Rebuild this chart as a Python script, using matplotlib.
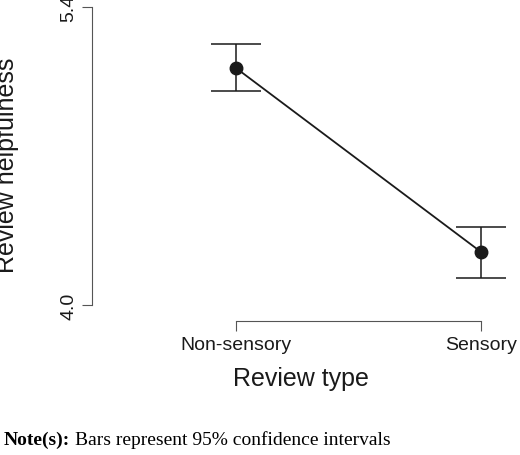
import matplotlib
matplotlib.use("Agg")
import matplotlib.pyplot as plt

plt.rcParams["font.family"] = ["Liberation Sans", "DejaVu Sans"]

# data
categories = ["Non-sensory", "Sensory"]
means = [5.113, 4.249]
ci_low = [5.005, 4.127]
ci_high = [5.226, 4.366]

W, H = 520, 456
fig = plt.figure(figsize=(W / 100, H / 100), dpi=100)
ax = fig.add_axes([92 / W, (H - 322) / H, 418 / W, 314 / H])

x = list(range(len(categories)))
yerr = [[m - lo for m, lo in zip(means, ci_low)],
        [hi - m for m, hi in zip(means, ci_high)]]
ax.errorbar(x, means, yerr=yerr, color="#1a1a1a", lw=1.3, elinewidth=1.1,
            capsize=18, capthick=1.1, marker="o", ms=9)

ax.set_xlim(-0.588, 1.118)
ax.set_ylim(3.925, 5.4)
ax.set_xticks(x, labels=categories)
ax.set_yticks([4.0, 5.4], labels=["4.0", "5.4"])
for s in ["top", "right"]:
    ax.spines[s].set_visible(False)
ax.spines["left"].set_bounds(4.0, 5.4)
ax.spines["bottom"].set_bounds(0, 1)
for s in ["left", "bottom"]:
    ax.spines[s].set_color("#555555")
ax.tick_params(labelsize=14, colors="#555555", labelcolor="#1a1a1a", length=7)
ax.tick_params(axis="y", labelrotation=90)
for lab in ax.get_yticklabels():
    lab.set_va("center")
ax.set_xlabel("Review type", fontsize=18, color="#1a1a1a", labelpad=10)
ax.set_ylabel("Review helpfulness", fontsize=18, color="#1a1a1a", labelpad=30)

note = fig.text(4 / W, 1 - 440 / H, "Note(s):", fontsize=14, fontweight="bold",
                family="Liberation Serif", va="center")
fig.canvas.draw()
bb = note.get_window_extent()
fig.text((bb.x1 + 5) / W, 1 - 440 / H, "Bars represent 95% confidence intervals",
         fontsize=14, family="Liberation Serif", va="center")

fig.savefig("out.png", dpi=100)
